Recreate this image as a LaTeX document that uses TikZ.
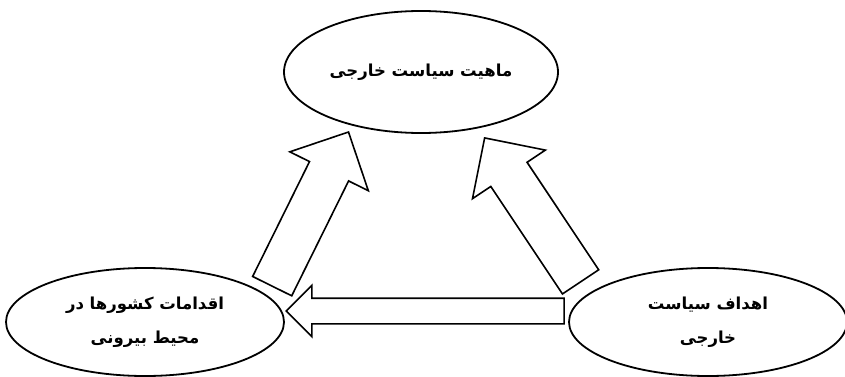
\documentclass[tikz,border=0pt]{standalone}
\usepackage{fontspec}
\newfontfamily\farsifont[Script=Arabic]{DejaVu Sans}
\TeXXeTstate=1
\usetikzlibrary{shapes.geometric, shapes.arrows, positioning}

\begin{document}
\begin{tikzpicture}[
    x=1pt, y=-1pt,
    base/.style={draw, ellipse, line width=1.8pt, align=center, inner sep=0pt,
        font=\farsifont\bfseries\fontsize{16.5}{34}\selectfont},
    topic/.style={base, minimum width=274pt, minimum height=122pt},
    side/.style={base, minimum width=278pt, minimum height=108pt},
    fatarrow/.style={single arrow, draw, line width=1.6pt, fill=white, inner xsep=0pt,
        minimum width=0pt, single arrow tip angle=90, allow upside down,
        pos=1, sloped, anchor=tip},
    slant/.style={fatarrow, inner ysep=21pt, single arrow head extend=22pt},
    flat/.style={fatarrow, inner ysep=12pt, single arrow head extend=13pt}
]
    \useasboundingbox (0,0) rectangle (845,377);

    \node [topic] (nature) at (421,72) {\beginR ماهیت سیاست خارجی\endR};
    \node [side] (actions) at (145,322) {\beginR اقدامات کشورها در\endR\\\beginR محیط بیرونی\endR};
    \node [side] (goals) at (708,322) {\beginR اهداف سیاست\endR\\\beginR خارجی\endR};

    % ends of the block arrows
    \coordinate (lefttail) at (272.5,285.5);
    \coordinate (lefttip) at (349,131);
    \coordinate (righttail) at (580,281);
    \coordinate (righttip) at (484,137);
    \coordinate (basetail) at (563,311);
    \coordinate (basetip) at (285,311);

    \path (lefttail) -- (lefttip) node [slant, minimum height=172pt] (up1) {};
    \path (righttail) -- (righttip) node [slant, minimum height=173pt] (up2) {};
    \path (basetail) -- (basetip) node [flat, minimum height=278pt] (back) {};

\end{tikzpicture}
\end{document}
